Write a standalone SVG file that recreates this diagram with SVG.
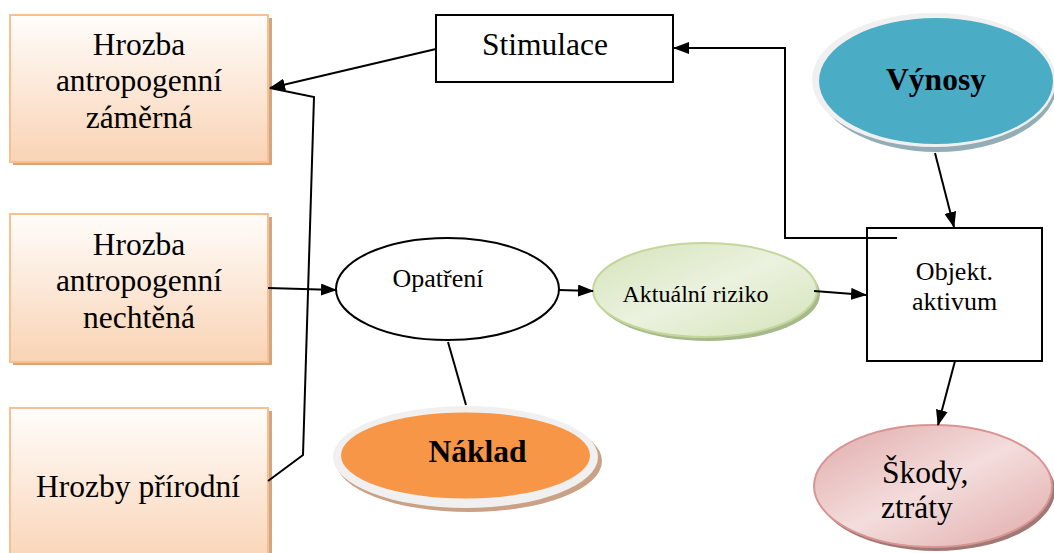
<svg xmlns="http://www.w3.org/2000/svg" width="1054" height="553" viewBox="0 0 1054 553">
<defs>
<linearGradient id="peach" x1="0" y1="0" x2="0" y2="1">
<stop offset="0" stop-color="#fffdfb"/>
<stop offset="1" stop-color="#f9d3b4"/>
</linearGradient>
<linearGradient id="green" x1="0" y1="0" x2="1" y2="1">
<stop offset="0" stop-color="#d4e3b8"/>
<stop offset="0.5" stop-color="#ebf2df"/>
<stop offset="1" stop-color="#d4e3b8"/>
</linearGradient>
<linearGradient id="pink" x1="0" y1="0" x2="1" y2="1">
<stop offset="0" stop-color="#e0aaa9"/>
<stop offset="0.5" stop-color="#f3dddc"/>
<stop offset="1" stop-color="#e0aaa9"/>
</linearGradient>
<marker id="arr" markerUnits="userSpaceOnUse" markerWidth="16" markerHeight="12" refX="15" refY="6" orient="auto">
<path d="M0,0 L16,6 L0,12 Z" fill="#000"/>
</marker>
<style>
.t{font-family:"Liberation Serif","Times New Roman",serif;fill:#000;text-anchor:middle}
.big{font-size:31.5px}
.bold{font-weight:bold;font-size:31.5px}
.box{fill:url(#peach);stroke:#f9c08f;stroke-width:2}
.shadow{fill:#d2a682}
.plain{fill:#fff;stroke:#000;stroke-width:2}
.c{fill:none;stroke:#000;stroke-width:2}
</style>
</defs>
<g id="hrozba-zamerna">
<rect class="shadow" x="13" y="18" width="259" height="147"/>
<rect class="box" x="10" y="15" width="258" height="147"/>
<text class="t big" x="139" y="55">Hrozba</text>
<text class="t big" x="139" y="91">antropogenní</text>
<text class="t big" x="139" y="128">záměrná</text>
</g>
<g id="hrozba-nechtena">
<rect class="shadow" x="13" y="217" width="259" height="148"/>
<rect class="box" x="10" y="214" width="258" height="148"/>
<text class="t big" x="139" y="255">Hrozba</text>
<text class="t big" x="139" y="291">antropogenní</text>
<text class="t big" x="139" y="328">nechtěná</text>
</g>
<g id="hrozby-prirodni">
<rect class="shadow" x="13" y="411" width="259" height="160"/>
<rect class="box" x="10" y="408" width="258" height="160"/>
<text class="t big" x="138" y="497">Hrozby přírodní</text>
</g>
<g id="stimulace">
<rect class="plain" x="436" y="15" width="237" height="67"/>
<text class="t big" x="545" y="55">Stimulace</text>
</g>
<g id="vynosy">
<ellipse cx="937" cy="84" rx="120" ry="68" fill="#93adb6"/>
<ellipse cx="934" cy="80" rx="122" ry="67" fill="#f0f0f0"/>
<ellipse cx="936" cy="81" rx="117" ry="63" fill="#4bacc6"/>
<text class="t bold" x="936" y="90">Výnosy</text>
</g>
<g id="opatreni">
<ellipse cx="447.5" cy="289" rx="111.5" ry="51" fill="#fff" stroke="#000" stroke-width="2"/>
<text class="t" style="font-size:26px" x="438" y="287">Opatření</text>
</g>
<g id="aktualni-riziko">
<ellipse cx="708" cy="294" rx="112" ry="47" fill="#a7b98a"/>
<ellipse cx="705" cy="290" rx="112" ry="47" fill="url(#green)" stroke="#c3d69b" stroke-width="2"/>
<text class="t" style="font-size:24px" x="695.5" y="302">Aktuální riziko</text>
</g>
<g id="objekt">
<rect class="plain" x="867" y="228" width="175" height="133"/>
<text class="t" style="font-size:26px" x="954.5" y="280">Objekt.</text>
<text class="t" style="font-size:26px" x="954.5" y="310">aktivum</text>
</g>
<g id="naklad">
<ellipse cx="469" cy="461" rx="133" ry="51" fill="#caa184"/>
<ellipse cx="465.5" cy="457" rx="132.5" ry="51" fill="#f0f0f0"/>
<ellipse cx="465.5" cy="455.5" rx="124.5" ry="43" fill="#f79646"/>
<text class="t bold" x="477.5" y="462">Náklad</text>
</g>
<g id="skody">
<ellipse cx="936" cy="490" rx="119" ry="61" fill="#a07876"/>
<ellipse cx="933" cy="486" rx="119" ry="61" fill="url(#pink)" stroke="#d99594" stroke-width="2"/>
<text class="t big" style="text-anchor:start" x="882" y="483">Škody,</text>
<text class="t big" style="text-anchor:start" x="881" y="518">ztráty</text>
</g>
<g id="connectors">
<path class="c" d="M436,49 L270,88" marker-end="url(#arr)"/>
<path class="c" d="M268,481 L303,455 L314,97 L270,88"/>
<path class="c" d="M897,238 L785,238 L785,48 L674,48" marker-end="url(#arr)"/>
<path class="c" d="M935,153 L954,227" marker-end="url(#arr)"/>
<path class="c" d="M955,361 L938,425" marker-end="url(#arr)"/>
<path class="c" d="M814,291 L866,295" marker-end="url(#arr)"/>
<path class="c" d="M559,290 L593,291" marker-end="url(#arr)"/>
<path class="c" d="M268,288 L336,290" marker-end="url(#arr)"/>
<path class="c" d="M448,342 L466,405"/>
</g>
</svg>
